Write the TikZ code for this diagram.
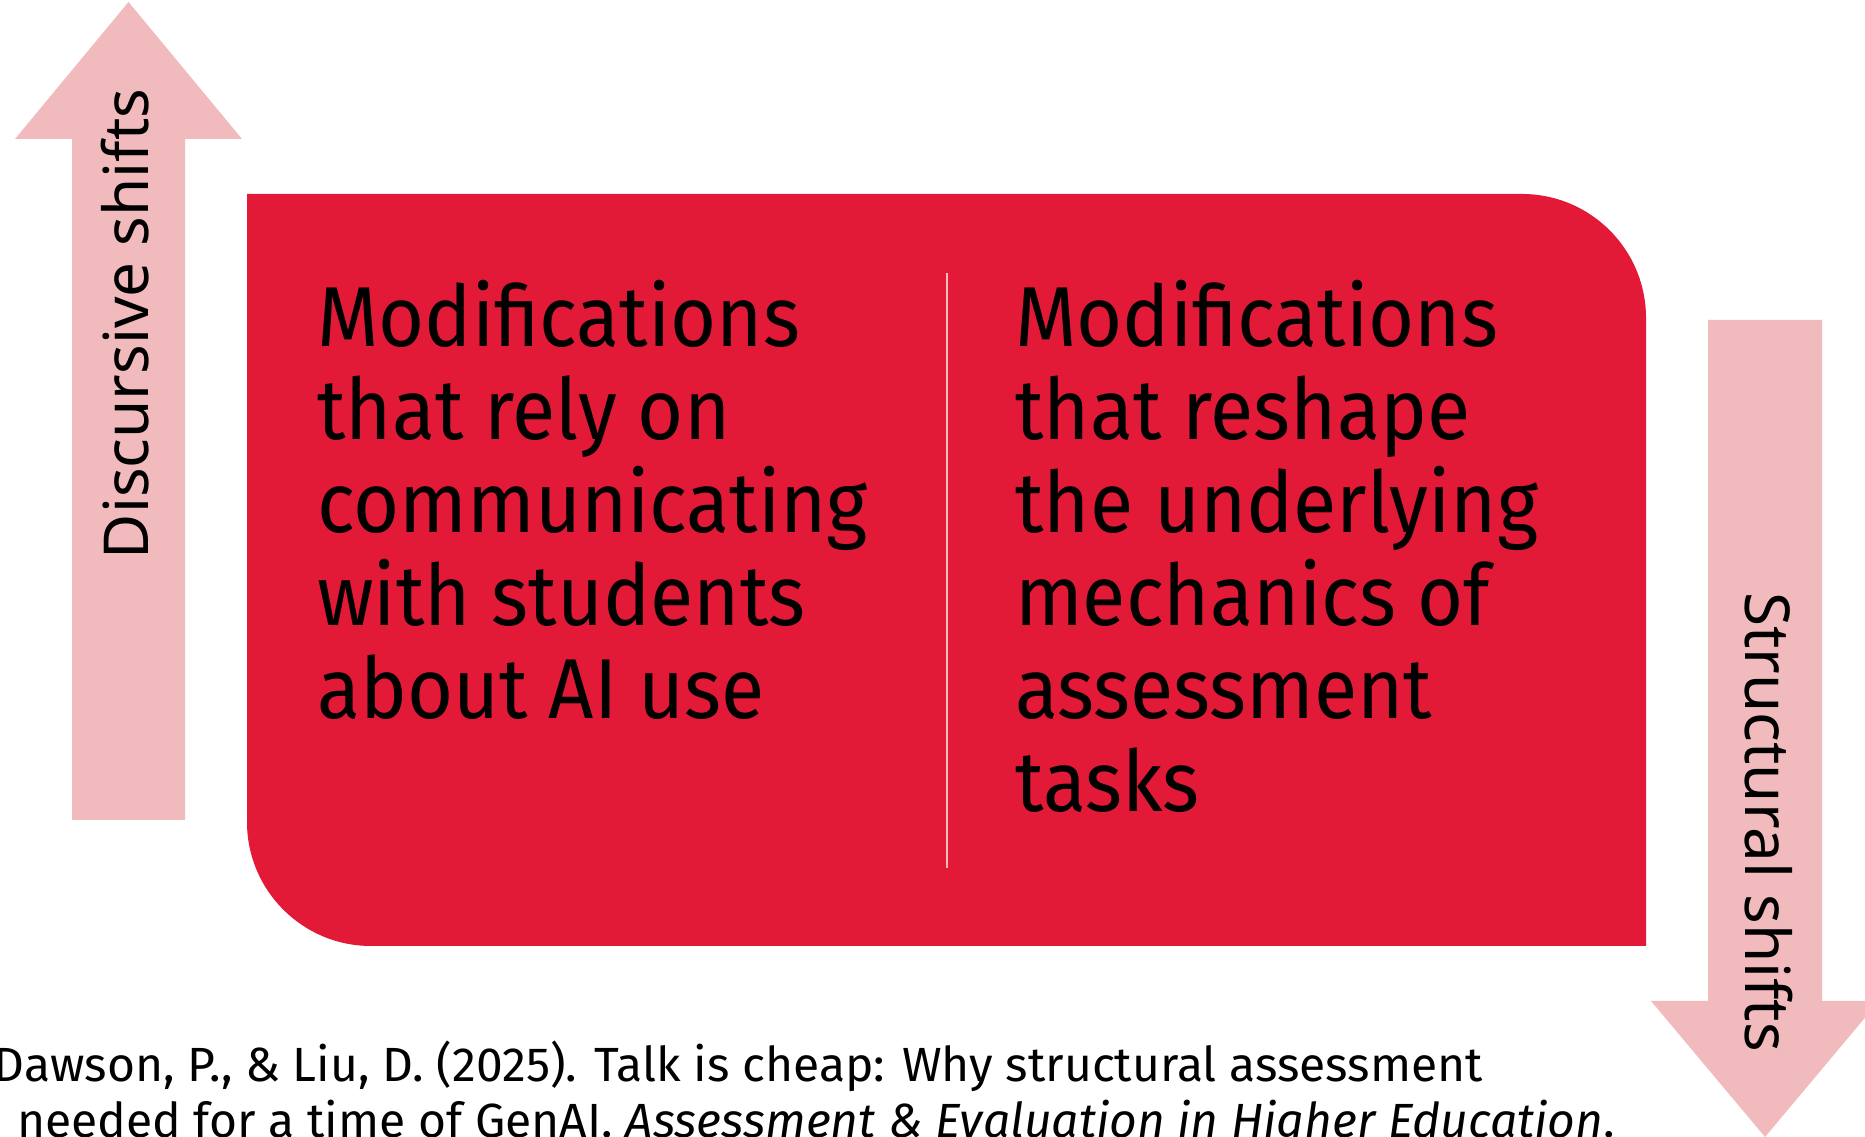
\documentclass[tikz,border=0pt]{standalone}
\usepackage{fontspec}
\setmainfont{Fira Sans}
\newfontfamily\modfont[FakeStretch=0.93]{Fira Sans}
\newfontfamily\labelfont{Noto Sans}
\usetikzlibrary{positioning}

\definecolor{boxred}{HTML}{E21A37}
\definecolor{arrowpink}{HTML}{F1BBBE}

\begin{document}
\begin{tikzpicture}[x=1pt, y=1pt,
	modtext/.style={anchor=base west, inner sep=0pt, font=\modfont\fontsize{85}{93}\selectfont},
	shiftlabel/.style={anchor=base, inner sep=0pt, font=\labelfont\fontsize{62}{70}\selectfont},
	citetext/.style={inner sep=0pt, font=\fontsize{48}{56}\selectfont}]
	
	\useasboundingbox (0,0) rectangle (1865,1137);
	
	% Draw the upward arrow.
	\fill[arrowpink] (72,317) -- (72,998) -- (15,998) -- (128.5,1135) -- (242,998) -- (185,998) -- (185,317) -- cycle;
	
	% Draw the downward arrow.
	\fill[arrowpink] (1708,817) -- (1708,136) -- (1651,136) -- (1765,0) -- (1879,136) -- (1822,136) -- (1822,817) -- cycle;
	
	% Draw the red box, two corners rounded.
	\fill[boxred] (247,943) -- (1522,943) arc[start angle=90, end angle=0, radius=124] -- (1646,191) -- (371,191) arc[start angle=270, end angle=180, radius=124] -- cycle;
	
	% Draw the divider.
	\coordinate (divtop) at (947,864);
	\coordinate (divbot) at (947,269);
	\draw[arrowpink, line width=2.5pt] (divtop) -- (divbot);
	
	% Draw the left column.
	\foreach \txt [count=\i] in {Modifications, that rely on, communicating, with students, about AI use}{
		\node[modtext] (leftline\i) at (317,{790-93*(\i-1)}) {\txt};
	}
	
	% Draw the right column.
	\foreach \txt [count=\i] in {Modifications, that reshape, the underlying, mechanics of, assessment, tasks}{
		\node[modtext] (rightline\i) at (1015,{790-93*(\i-1)}) {\txt};
	}
	
	% Draw the arrow labels.
	\node[shiftlabel, rotate=90] (discursive) at (148,813) {Discursive shifts};
	\node[shiftlabel, rotate=-90] (structural) at (1745,315) {Structural shifts};
	
	% Draw the reference.
	\node[citetext, anchor=base east] (citeone) at (1483,55) {Dawson, P., \& Liu, D. (2025). Talk is cheap: Why structural assessment};
	\node[citetext, anchor=base west] (citetwo) at (17,-1) {needed for a time of GenAI. \textit{Assessment \& Evaluation in Higher Education}.};
	
\end{tikzpicture}
\end{document}
